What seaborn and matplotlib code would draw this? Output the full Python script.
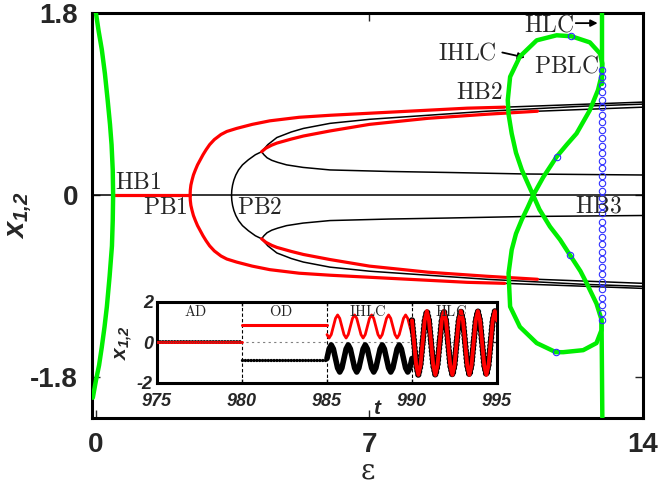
import matplotlib
matplotlib.use("Agg")
import matplotlib.pyplot as plt
import numpy as np
import seaborn as sns

# main diagram: x_{1,2} against epsilon (upper half, lower half is the mirror)
GREEN_LEFT_X = [0.0, 0.07, 0.15, 0.23, 0.30, 0.36, 0.40, 0.43, 0.44, 0.43, 0.41, 0.35, 0.28, 0.22, 0.15, 0.08, 0.0, -0.08]
GREEN_LEFT_Y = [1.8, 1.62, 1.44, 1.2, 0.94, 0.7, 0.5, 0.25, 0.0, -0.25, -0.5, -0.8, -1.1, -1.3, -1.5, -1.68, -1.83, -2.0]

HB1_EPS = [0.44, 2.41]

PB1_X = [2.41, 2.415, 2.43, 2.46, 2.495, 2.545, 2.60, 2.67, 2.74, 2.82, 2.91, 3.03, 3.20, 3.35, 3.60,
         4.0, 4.45, 5.2, 6.0, 7.0, 8.5, 9.5, 10.46]
PB1_Y = [0.0, 0.05, 0.10, 0.15, 0.20, 0.25, 0.30, 0.35, 0.40, 0.45, 0.50, 0.55, 0.60, 0.63, 0.66,
         0.70, 0.735, 0.77, 0.79, 0.81, 0.84, 0.86, 0.87]

PB2_X = [3.47, 3.477, 3.497, 3.53, 3.58, 3.65, 3.75, 3.90, 4.08, 4.24, 4.40, 4.63, 5.0, 5.31, 5.99,
         7.0, 8.5, 10.0, 11.5, 12.5, 14.0]
PB2_Y = [0.0, 0.05, 0.10, 0.15, 0.20, 0.25, 0.30, 0.35, 0.40, 0.43, 0.50, 0.57, 0.625, 0.66, 0.71,
         0.75, 0.79, 0.83, 0.86, 0.88, 0.90]

INNER_RED_X = [4.24, 4.35, 4.50, 4.63, 5.0, 5.31, 5.99, 7.0, 8.5, 10.0, 11.3]
INNER_RED_Y = [0.43, 0.465, 0.495, 0.515, 0.555, 0.585, 0.635, 0.70, 0.76, 0.80, 0.83]

INNER_BLACK_X = [4.24, 4.30, 4.38, 4.50, 4.65, 4.88, 5.3, 5.99, 7.5, 9.0, 11.0, 14.0]
INNER_BLACK_Y = [0.43, 0.40, 0.37, 0.345, 0.325, 0.30, 0.275, 0.25, 0.235, 0.225, 0.21, 0.20]

TAIL_X = [[10.46, 14.0], [11.3, 14.0]]
TAIL_Y = [[0.87, 0.92], [0.83, 0.87]]

# figure-eight limit cycle (IHLC) and the HLC line
EIGHT_X = [11.19, 11.45, 11.79, 12.05, 12.30, 12.64, 12.85, 12.95, 12.96, 12.90, 12.64, 12.17, 11.79, 11.28,
           10.85, 10.60, 10.54, 10.56, 10.64, 10.75, 10.90, 11.05, 11.19, 11.35, 11.62, 11.88, 12.13, 12.40,
           12.56, 12.81, 12.94, 12.94, 12.81, 12.47, 11.96, 11.77, 11.28, 10.85, 10.60, 10.56, 10.64, 10.75,
           10.90, 11.05, 11.19]
EIGHT_Y = [0.0, 0.18, 0.38, 0.50, 0.61, 0.84, 1.04, 1.20, 1.30, 1.40, 1.51, 1.57, 1.58, 1.53,
           1.37, 1.17, 0.94, 0.80, 0.61, 0.42, 0.25, 0.12, 0.0, -0.14, -0.31, -0.44, -0.59, -0.75,
           -0.87, -1.07, -1.23, -1.33, -1.46, -1.53, -1.55, -1.55, -1.46, -1.30, -1.10, -0.77, -0.54, -0.38,
           -0.24, -0.12, 0.0]
HLC_X = [[12.95, 12.95], [12.94, 12.96]]
HLC_Y = [[1.8, 1.1], [-1.25, -2.2]]

PBLC_EPS = 12.96
PBLC_Y = [1.24, 1.17, 1.09, 1.02, 0.94, 0.87, 0.79, 0.72, 0.64, 0.57, 0.49, 0.42, 0.34, 0.27, 0.19, 0.12, 0.04,
          -0.03, -0.11, -0.18, -0.26, -0.33, -0.41, -0.48, -0.56, -0.63, -0.71, -0.78, -0.86, -0.93, -1.01,
          -1.08, -1.16, -1.23]
MARK_X = [12.17, 11.79, 12.13, 11.77]
MARK_Y = [1.57, 0.38, -0.59, -1.55]

LABELS = [("HB1", 0.48, 0.12), ("PB1", 1.20, -0.13), ("PB2", 3.62, -0.13), ("HB2", 9.22, 1.01),
          ("IHLC", 8.76, 1.40), ("PBLC", 11.2, 1.27), ("HLC", 10.95, 1.68), ("HB3", 12.26, -0.11)]

# inset: time series
AD_T, AD_Y = [975, 980], [0.0, 0.0]
OD_T, OD_RED, OD_BLACK = [980, 985], [0.85, 0.85], [-0.85, -0.85]
IHLC_T = np.linspace(985, 990, 41)
IHLC_RED = [0.39, 0.22, 0.39, 0.79, 1.19, 1.36, 1.19, 0.79,
            0.39, 0.22, 0.39, 0.79, 1.19, 1.36, 1.19, 0.79,
            0.39, 0.22, 0.39, 0.79, 1.19, 1.36, 1.19, 0.79,
            0.39, 0.22, 0.39, 0.79, 1.19, 1.36, 1.19, 0.79,
            0.39, 0.22, 0.39, 0.79, 1.19, 1.36, 1.19, 0.79, 0.39]
IHLC_BLACK = [-0.79, -0.32, -0.12, -0.32, -0.79, -1.26, -1.46, -1.26,
              -0.79, -0.32, -0.12, -0.32, -0.79, -1.26, -1.46, -1.26,
              -0.79, -0.32, -0.12, -0.32, -0.79, -1.26, -1.46, -1.26,
              -0.79, -0.32, -0.12, -0.32, -0.79, -1.26, -1.46, -1.26,
              -0.79, -0.32, -0.12, -0.32, -0.79, -1.26, -1.46, -1.26, -0.79]
HLC_T = np.linspace(990, 995, 41)
HLC_XS = [1.09, -0.02, -1.13, -1.60, -1.13, -0.02, 1.09, 1.55,
          1.09, -0.02, -1.13, -1.60, -1.13, -0.02, 1.09, 1.55,
          1.09, -0.02, -1.13, -1.60, -1.13, -0.02, 1.09, 1.55,
          1.09, -0.02, -1.13, -1.60, -1.13, -0.02, 1.09, 1.55,
          1.09, -0.02, -1.13, -1.60, -1.13, -0.02, 1.09, 1.55, 1.09]
PHASES = [("AD", 977.3), ("OD", 982.3), ("IHLC", 987.4), ("HLC", 992.3)]

RED = "#ff0000"
GREEN = "#00ee00"
BLUE = "#3030ff"

sns.set_style("ticks", {"axes.edgecolor": "black", "xtick.direction": "in", "ytick.direction": "in"})
plt.rcParams["font.family"] = ["Liberation Sans", "DejaVu Sans"]
plt.rcParams["mathtext.fontset"] = "custom"
plt.rcParams["mathtext.rm"] = "Liberation Sans:italic:bold"
plt.rcParams["mathtext.it"] = "Liberation Sans:italic:bold"
plt.rcParams["mathtext.bf"] = "Liberation Sans:italic:bold"


def curve(ax, xs, ys, color, lw, z=2):
    sns.lineplot(x=list(xs), y=list(ys), sort=False, estimator=None, color=color,
                 linewidth=lw, zorder=z, legend=False, ax=ax)


fig = plt.figure(figsize=(6.63, 4.87), dpi=100)
ax = fig.add_axes([0.1388, 0.1417, 0.831, 0.8316])

curve(ax, [-0.1, 14.0], [0.0, 0.0], "black", 1.1)
curve(ax, HB1_EPS, [0.0, 0.0], RED, 2.3, 3)
for sign in (1, -1):
    curve(ax, PB2_X, [sign * v for v in PB2_Y], "black", 1.1)
    curve(ax, INNER_BLACK_X, [sign * v for v in INNER_BLACK_Y], "black", 1.1)
    for tx, ty in zip(TAIL_X, TAIL_Y):
        curve(ax, tx, [sign * v for v in ty], "black", 1.1)
    curve(ax, PB1_X, [sign * v for v in PB1_Y], RED, 2.3, 3)
    curve(ax, INNER_RED_X, [sign * v for v in INNER_RED_Y], RED, 2.3, 3)

curve(ax, GREEN_LEFT_X, GREEN_LEFT_Y, GREEN, 3.2, 4)
curve(ax, EIGHT_X, EIGHT_Y, GREEN, 3.2, 4)
for hx, hy in zip(HLC_X, HLC_Y):
    curve(ax, hx, hy, GREEN, 3.2, 4)

ax.plot([PBLC_EPS] * len(PBLC_Y), PBLC_Y, ls="none", marker="o", ms=4.6, mfc="none",
        mec=BLUE, mew=0.8, zorder=5)
ax.plot(MARK_X, MARK_Y, ls="none", marker="o", ms=4.6, mfc="none", mec=BLUE, mew=0.8, zorder=5)

for txt, lx, ly in LABELS:
    ax.text(lx, ly, r"$\mathrm{%s}$" % txt, math_fontfamily="cm", fontsize=17,
            ha="left", va="center", zorder=6)
arrow = dict(arrowstyle="-|>", color="black", lw=1.3, mutation_scale=10, shrinkA=0, shrinkB=0)
ax.annotate("", xy=(10.98, 1.36), xytext=(10.40, 1.41), arrowprops=arrow)
ax.annotate("", xy=(12.84, 1.70), xytext=(12.28, 1.70), arrowprops=arrow)

ax.set_xlim(-0.1, 14.0)
ax.set_ylim(-2.2, 1.8)
ax.set_xticks([0, 7, 14])
ax.set_xticklabels(["0", "7", "14"], fontsize=20, fontweight="bold")
ax.set_yticks([-1.8, 0, 1.8])
ax.set_yticklabels(["-1.8", "0", "1.8"], fontsize=20, fontweight="bold")
ax.tick_params(direction="in", top=True, right=True, length=6, width=1, pad=10)
for sp in ax.spines.values():
    sp.set_linewidth(2.2)
ax.set_xlabel("ε", family="DejaVu Serif", fontsize=20, labelpad=0)
ax.set_ylabel(r"$x_{1{,}2}$", fontsize=21)
ax.yaxis.set_label_coords(-0.105, 0.5)

# inset
ins = fig.add_axes([0.2368, 0.2136, 0.5128, 0.1663])
ins.set_facecolor("white")
for tv in (980, 985, 990):
    ins.axvline(tv, color="black", lw=0.8, ls=(0, (3, 2)), zorder=1)
ins.axhline(0, color="gray", lw=0.8, ls=(0, (2, 3)), zorder=1)

bead = dict(solid_capstyle="round", dash_capstyle="round")
ins.plot(AD_T, AD_Y, color="black", lw=2.8, ls=(0, (0.01, 0.75)), zorder=2, **bead)
curve(ins, AD_T, AD_Y, RED, 2.0, 3)
ins.axhline(0, xmin=0, xmax=0.25, color="#444444", lw=0.6, ls=(0, (1, 1.5)), zorder=4)
curve(ins, OD_T, OD_RED, RED, 2.2, 3)
ins.plot(OD_T, OD_BLACK, color="black", lw=2.4, ls=(0, (0.01, 0.85)), zorder=3, **bead)
curve(ins, IHLC_T, IHLC_RED, RED, 2.0, 3)
curve(ins, IHLC_T, IHLC_BLACK, "black", 4.0, 3)
ins.plot(HLC_T, HLC_XS, color="black", lw=4.6, ls=(0, (0.01, 0.6)), zorder=3, **bead)
curve(ins, HLC_T, HLC_XS, RED, 2.8, 4)

for txt, tx in PHASES:
    ins.text(tx, 1.55, r"$\mathrm{%s}$" % txt, math_fontfamily="cm", fontsize=10.5,
             ha="center", va="center", zorder=5)

ins.set_xlim(975, 995)
ins.set_ylim(-2, 2)
ins.set_xticks([975, 980, 985, 990, 995])
ins.set_xticklabels(["975", "980", "985", "990", "995"], fontsize=13, fontweight="bold", fontstyle="italic")
ins.set_yticks([-2, 0, 2])
ins.set_yticklabels(["-2", "0", "2"], fontsize=13, fontweight="bold", fontstyle="italic")
ins.tick_params(direction="in", top=True, right=True, length=3, width=1, pad=3)
ins.tick_params(axis="x", pad=7)
for sp in ins.spines.values():
    sp.set_linewidth(2.2)
ins.set_xlabel("t", fontsize=15, fontweight="bold", fontstyle="italic")
ins.xaxis.set_label_coords(0.647, -0.2)
ins.set_ylabel(r"$x_{1{,}2}$", fontsize=15, labelpad=1)

fig.savefig("out.png", dpi=100)
